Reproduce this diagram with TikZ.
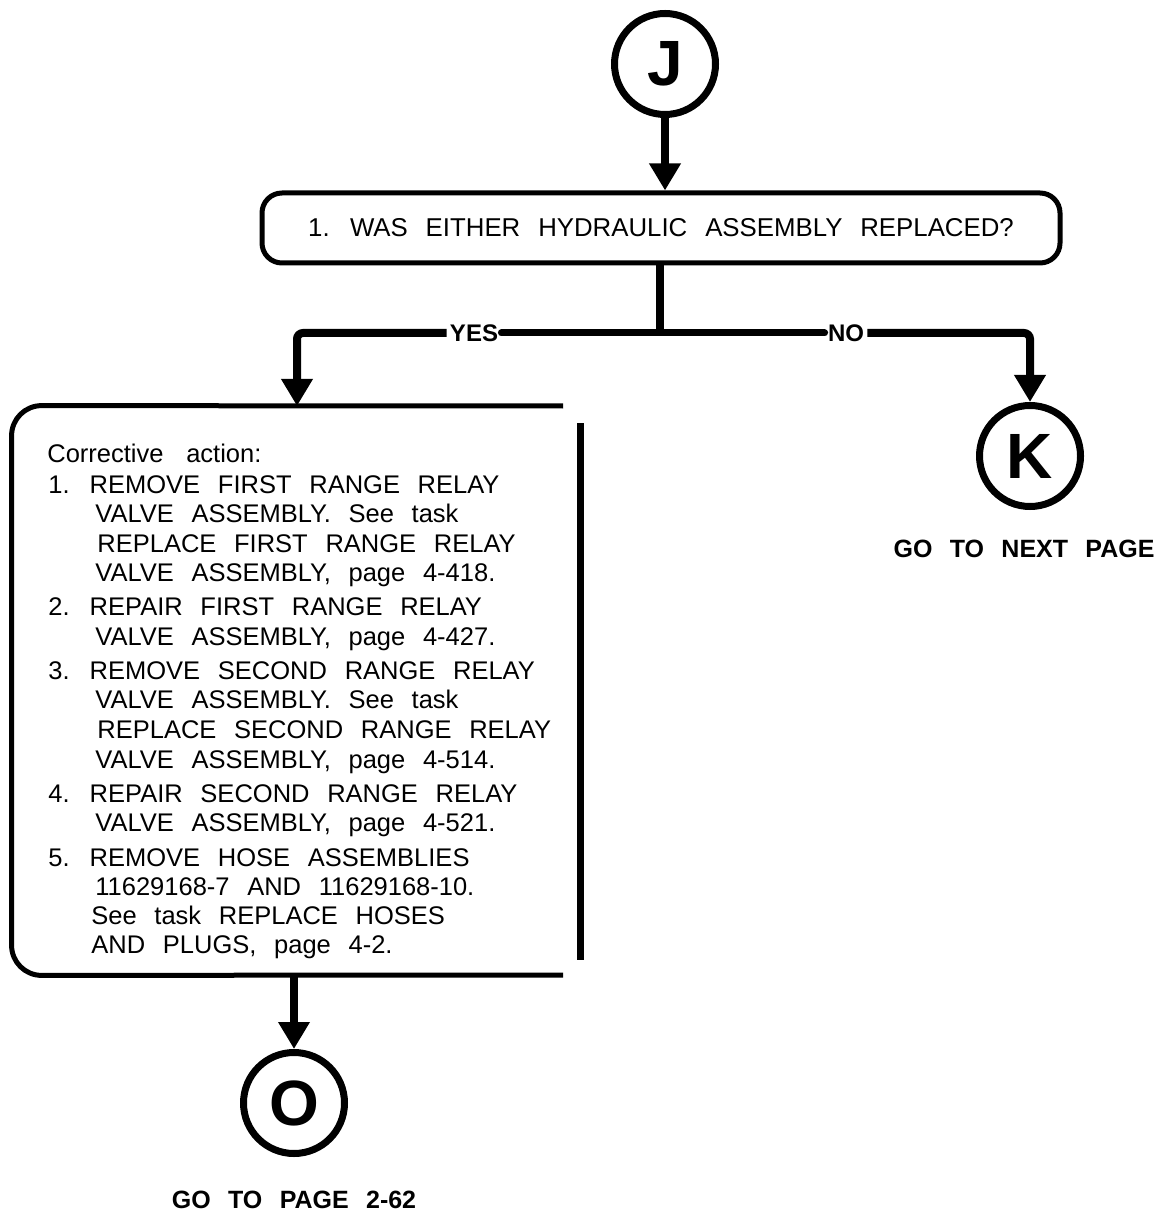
\documentclass[tikz,border=0pt]{standalone}
\usepackage{fontspec}
\setmainfont{Liberation Sans}[WordSpace=2.5]
\usetikzlibrary{arrows.meta}
\begin{document}
\begin{tikzpicture}[x=0.5pt,y=-0.5pt,
  conn/.style={circle,draw,line width=3.5pt,minimum size=50.5pt,inner sep=0pt,
    font=\fontsize{32}{32}\selectfont\bfseries},
  dec/.style={draw,line width=2.5pt,rounded corners=10pt,minimum width=399pt,
    minimum height=35pt,inner sep=0pt,font=\fontsize{12.9}{14}\selectfont},
  lbl/.style={inner sep=1.5pt,font=\fontsize{12}{12}\selectfont\bfseries},
  note/.style={inner sep=0pt,font=\fontsize{12.5}{12.5}\selectfont\bfseries},
  body/.style={anchor=base west,inner sep=0pt,font=\fontsize{12.75}{14}\selectfont},
  arr/.style={line width=4pt,-{Triangle[width=15pt,length=13.5pt]}},
  bar/.style={line width=3.5pt,line cap=round},
  frame/.style={line width=2.5pt,rounded corners=15pt}]
\useasboundingbox (0,0) rectangle (1163,1213);

% entry connector and question
\node[conn] (J) at (665,64) {J};
\node[dec] (q) at (661,228) {1. WAS EITHER HYDRAULIC ASSEMBLY REPLACED?};
\draw[arr] (J) -- (J |- q.north);

% branch
\coordinate (split) at (660,333);
\node[lbl] (yes) at (474,333) {YES};
\node[lbl] (no) at (846,333) {NO};
\draw[line width=4pt] (q.south -| split) -- (split);
\draw[bar] (yes.east) -- (no.west);

% NO branch
\node[conn] (K) at (1030,456) {K};
\node[note] (knote) at (1024,549) {GO TO NEXT PAGE};
\draw[arr,rounded corners=3pt] (no.east) -| (K.north);

% corrective action box
\node[inner sep=0pt,minimum width=284pt,minimum height=284.5pt] (act) at (296,690.5) {};
\coordinate (actin) at (297,406);
\draw[arr,rounded corners=3pt] (yes.west) -| (actin);
\draw[frame] (563,406) -- (act.north west) -- (act.south west) -- (563,975);
\draw[line width=3.5pt] (580,423) -- (580,960);

\foreach \t/\x/\y in {
  {Corrective\hspace{2.5pt} action:}/47/462,
  {1. REMOVE FIRST RANGE RELAY}/48/493,
  {VALVE ASSEMBLY. See task}/95/522,
  {REPLACE FIRST RANGE RELAY}/97/552,
  {VALVE ASSEMBLY, page 4-418.}/95/581,
  {2. REPAIR FIRST RANGE RELAY}/48/615,
  {VALVE ASSEMBLY, page 4-427.}/95/645,
  {3. REMOVE SECOND RANGE RELAY}/48/679,
  {VALVE ASSEMBLY. See task}/95/708,
  {REPLACE SECOND RANGE RELAY}/97/738,
  {VALVE ASSEMBLY, page 4-514.}/95/768,
  {4. REPAIR SECOND RANGE RELAY}/48/802,
  {VALVE ASSEMBLY, page 4-521.}/95/831,
  {5. REMOVE HOSE ASSEMBLIES}/48/866,
  {11629168-7 AND 11629168-10.}/95/895,
  {See task REPLACE HOSES}/91/924,
  {AND PLUGS, page 4-2.}/91/953}
  \node[body] (line\y) at (\x,\y) {\t};

% YES exit
\node[conn] (O) at (294,1103) {O};
\node[note] (onote) at (294,1200) {GO TO PAGE 2-62};
\draw[arr] (act.south -| O) -- (O.north);
\end{tikzpicture}
\end{document}
